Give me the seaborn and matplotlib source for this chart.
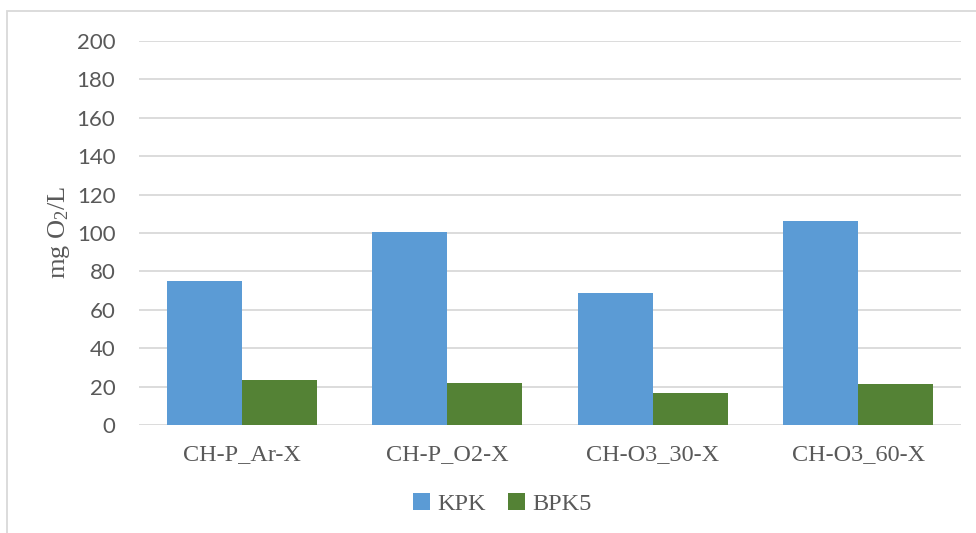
import matplotlib
matplotlib.use("Agg")
import matplotlib.pyplot as plt
from matplotlib.patches import Rectangle, Patch
import seaborn as sns
import pandas as pd

categories = ["CH-P_Ar-X", "CH-P_O2-X", "CH-O3_30-X", "CH-O3_60-X"]
series_names = ["KPK", "BPK5"]
kpk = [75.0, 100.5, 68.5, 106.5]
bpk5 = [23.6, 21.9, 16.8, 21.5]
y_ticks = [0, 20, 40, 60, 80, 100, 120, 140, 160, 180, 200]

colors = {"KPK": "#5B9BD5", "BPK5": "#548235"}
text_color = "#595959"
grid_color = "#D9D9D9"

df = pd.DataFrame({
    "category": categories * 2,
    "series": [series_names[0]] * 4 + [series_names[1]] * 4,
    "value": kpk + bpk5,
})

sns.set_theme(style="white")
plt.rcParams["mathtext.fontset"] = "custom"
plt.rcParams["mathtext.rm"] = "Liberation Serif"
plt.rcParams["mathtext.it"] = "Liberation Serif:italic"

W, H = 976, 533
fig = plt.figure(figsize=(W / 100, H / 100), dpi=100)
ax = fig.add_axes([139 / W, 1 - 425 / H, (961 - 139) / W, (425 - 41) / H])

sns.barplot(data=df, x="category", y="value", hue="series", order=categories,
            hue_order=series_names, palette=colors, width=0.73, gap=0,
            saturation=1, ax=ax, legend=False, linewidth=0)

ax.set_ylim(0, 200)
ax.set_yticks(y_ticks)
ax.set_xlim(-0.5, 3.5)
ax.yaxis.grid(True, color=grid_color, linewidth=1.3)
ax.set_axisbelow(True)
for s in ax.spines.values():
    s.set_visible(False)
ax.tick_params(axis="both", length=0)
ax.tick_params(axis="y", pad=17)
ax.tick_params(axis="x", pad=14)

for lbl in ax.get_yticklabels():
    lbl.set_fontfamily("Lato")
    lbl.set_fontsize(16)
    lbl.set_color(text_color)
for lbl in ax.get_xticklabels():
    lbl.set_fontfamily("Liberation Serif")
    lbl.set_fontsize(17.5)
    lbl.set_color(text_color)

ax.set_xlabel("")
ax.set_ylabel("")
fig.text(59 / W, 1 - 232 / H, r"mg O$_2$/L", rotation=90, ha="center", va="center",
         fontsize=19, family="Liberation Serif", color=text_color)

handles = [Patch(facecolor=colors[n], edgecolor="none", label=n) for n in series_names]
fig.legend(handles=handles, loc="center", bbox_to_anchor=(502 / W, 1 - 504 / H),
           ncol=2, frameon=False, handlelength=0.7, handleheight=0.7,
           handletextpad=0.3, columnspacing=0.9,
           prop={"family": "Liberation Serif", "size": 17.5}, labelcolor=text_color)

# outer chart frame
fig.patches.append(Rectangle((7 / W, -0.1), 1.1, 1 - 11 / H + 0.1, transform=fig.transFigure,
                             fill=False, edgecolor=grid_color, linewidth=1.3))

fig.savefig("out.png", dpi=100)
